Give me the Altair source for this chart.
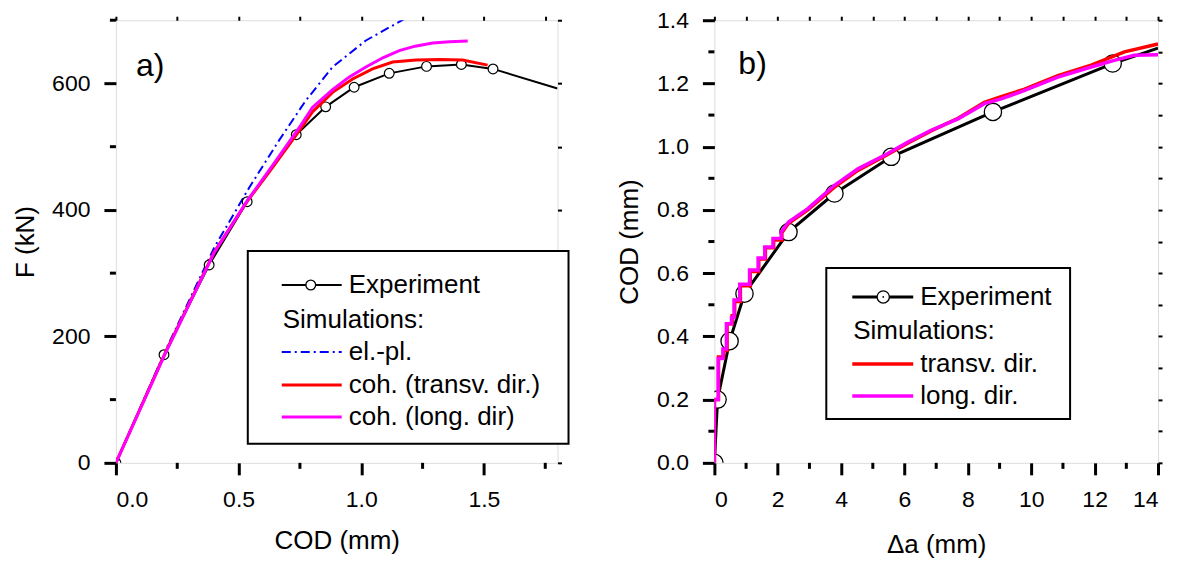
import altair as alt
import pandas as pd

FONT = "Liberation Sans"

# ---------------- panel a) F vs COD ----------------
exp_a_cod = [0.0, 0.196, 0.38, 0.535, 0.735, 0.855, 0.971, 1.114, 1.266, 1.408, 1.537, 1.80]
exp_a_F = [0, 171, 313, 413, 519, 563, 594, 616, 627, 630, 623, 592]
exp_a_marker = [1, 1, 1, 1, 1, 1, 1, 1, 1, 1, 1, 0]

elpl_cod = [0.0, 0.2, 0.4, 0.543, 0.665, 0.774, 0.883, 1.019, 1.18]
elpl_F = [0, 176, 340, 435, 510, 573, 626, 668, 703]

transv_a_cod = [0.0, 0.2, 0.4, 0.536, 0.638, 0.747, 0.801, 0.883, 0.965, 1.046, 1.128, 1.223, 1.318, 1.413, 1.515]
transv_a_F = [0, 173, 333, 414, 467, 525, 555, 586, 607, 623, 634, 637, 638, 637, 629]

long_a_cod = [0.0, 0.2, 0.4, 0.536, 0.638, 0.747, 0.801, 0.883, 0.95, 1.019, 1.09, 1.155, 1.22, 1.291, 1.36, 1.434]
long_a_F = [0, 172, 332, 415, 470, 530, 562, 590, 610, 626, 641, 652, 659, 664, 666, 667]

xa_major = [0.0, 0.5, 1.0, 1.5]
xa_minor = [0.25, 0.75, 1.25, 1.75]
ya_major = [0, 200, 400, 600]
ya_minor = [100, 300, 500, 700]

# ---------------- panel b) COD vs delta a ----------------
exp_b_da = [0.0, 0.10, 0.48, 0.95, 2.34, 3.79, 5.58, 8.79, 12.57, 14.0]
exp_b_cod = [0.0, 0.20, 0.385, 0.535, 0.73, 0.852, 0.968, 1.11, 1.263, 1.312]
exp_b_marker = [1, 1, 1, 1, 1, 1, 1, 1, 1, 0]

long_b_da = [0, 0, 0.12, 0.12, 0.27, 0.27, 0.38, 0.38, 0.54, 0.54, 0.62, 0.62, 0.8, 0.8, 1.11, 1.11,
             1.38, 1.38, 1.59, 1.59, 1.85, 1.85, 2.11, 2.11, 2.34, 2.95, 3.79, 4.53, 5.37, 6.11, 6.84,
             7.69, 8.52, 9.05, 9.79, 10.84, 11.89, 12.62, 13.25, 14.0]
long_b_cod = [0, 0.2, 0.2, 0.33, 0.33, 0.36, 0.36, 0.44, 0.44, 0.46, 0.46, 0.515, 0.515, 0.565, 0.565, 0.61,
              0.61, 0.648, 0.648, 0.683, 0.683, 0.71, 0.71, 0.73, 0.762, 0.804, 0.878, 0.93, 0.973, 1.015, 1.052,
              1.088, 1.136, 1.151, 1.178, 1.22, 1.252, 1.273, 1.289, 1.291]

transv_b_da = [0, 0, 0.13, 0.13, 0.29, 0.29, 0.40, 0.40, 0.56, 0.56, 0.64, 0.64, 0.82, 0.82, 1.13, 1.13,
               1.40, 1.40, 1.61, 1.61, 1.87, 1.87, 2.13, 2.13, 2.34, 2.95, 3.79, 4.53, 5.37, 6.11, 6.84,
               7.69, 8.52, 9.05, 9.79, 10.84, 11.89, 12.94, 14.0]
transv_b_cod = [0, 0.2, 0.2, 0.335, 0.335, 0.355, 0.355, 0.44, 0.44, 0.465, 0.465, 0.51, 0.51, 0.56, 0.56, 0.605,
                0.605, 0.645, 0.645, 0.68, 0.68, 0.705, 0.705, 0.728, 0.758, 0.80, 0.872, 0.925, 0.97, 1.012, 1.05,
                1.09, 1.14, 1.158, 1.182, 1.225, 1.258, 1.30, 1.325]

xb_major = [0, 2, 4, 6, 8, 10, 12, 14]
xb_minor = [1, 3, 5, 7, 9, 11, 13]
yb_major = [0.0, 0.2, 0.4, 0.6, 0.8, 1.0, 1.2, 1.4]
yb_minor = [0.1, 0.3, 0.5, 0.7, 0.9, 1.1, 1.3]

W_A, W_B, H = 442, 444, 443
MINOR = 6

BLACK = "#000000"


def major_axis(orient, values, fmt, title, tick=12, lpad=14, tpad=10):
    return alt.Axis(orient=orient, values=values, format=fmt, title=title, grid=False, domain=False,
                    tickSize=tick, tickWidth=3, tickColor=BLACK, labelFont=FONT, labelFontSize=23,
                    labelColor=BLACK, labelPadding=lpad, titleFont=FONT, titleFontSize=26,
                    titleFontWeight="normal", titleColor=BLACK, titlePadding=tpad)


def frame_axis(orient, values):
    return alt.Axis(orient=orient, values=values, title=None, grid=False, domain=False, labels=False,
                    tickSize=4, tickWidth=2, tickColor=BLACK)


def minor_ticks(xvals, yvals, xscale, yscale, width, height):
    """short outward minor ticks on the bottom and left axes, placed through the scales"""
    bx = alt.Chart(pd.DataFrame({"v": xvals})).mark_rule(color=BLACK, strokeWidth=3).encode(
        x=alt.X("v:Q", scale=xscale, axis=None), y=alt.value(height), y2=alt.value(height + MINOR))
    ly = alt.Chart(pd.DataFrame({"v": yvals})).mark_rule(color=BLACK, strokeWidth=3).encode(
        y=alt.Y("v:Q", scale=yscale, axis=None), x=alt.value(-MINOR), x2=alt.value(0))
    return [bx, ly]


def legend_layers(box, rows):
    """box = (x1, x2, y1, y2) in pixels inside the plot; rows: list of dicts"""
    layers = [alt.Chart(pd.DataFrame({"d": [0]})).mark_rect(fill="white", stroke=BLACK, strokeWidth=2)
              .encode(x=alt.value(box[0]), x2=alt.value(box[1]), y=alt.value(box[2]), y2=alt.value(box[3]))]
    for r in rows:
        base = alt.Chart(pd.DataFrame({"d": [0]}))
        if r.get("line"):
            kw = dict(color=r["color"], strokeWidth=r["width"])
            if r.get("dash"):
                kw["strokeDash"] = r["dash"]
            layers.append(base.mark_rule(**kw).encode(x=alt.value(r["lx"][0]), x2=alt.value(r["lx"][1]),
                                                          y=alt.value(r["y"])))
        if r.get("marker"):
            layers.append(base.mark_point(shape="circle", filled=True, fill="white", stroke=BLACK,
                                          strokeWidth=1.3, size=r["msize"], opacity=1)
                          .encode(x=alt.value(r["mx"]), y=alt.value(r["y"])))
            if r.get("dot"):
                layers.append(base.mark_point(shape="circle", filled=True, color=BLACK, size=3, opacity=1)
                              .encode(x=alt.value(r["mx"]), y=alt.value(r["y"])))
        layers.append(base.mark_text(font=FONT, fontSize=26, align="left", baseline="middle", color=BLACK)
                      .encode(x=alt.value(r["tx"]), y=alt.value(r["y"]), text=alt.value(r["text"])))
    return layers


# ---------- panel a ----------
df_exp_a = pd.DataFrame({"cod": exp_a_cod, "F": exp_a_F, "m": exp_a_marker})
df_elpl = pd.DataFrame({"cod": elpl_cod, "F": elpl_F})
df_tr_a = pd.DataFrame({"cod": transv_a_cod, "F": transv_a_F})
df_lo_a = pd.DataFrame({"cod": long_a_cod, "F": long_a_F})

xs_a = alt.Scale(domain=[0, 1.8], nice=False, zero=False)
ys_a = alt.Scale(domain=[0, 700], nice=False, zero=False)

a_exp_line = alt.Chart(df_exp_a).mark_line(color=BLACK, strokeWidth=2, clip=True).encode(
    x=alt.X("cod:Q", scale=xs_a, axis=major_axis("bottom", xa_major, ".1f", "COD (mm)", tpad=16)),
    y=alt.Y("F:Q", scale=ys_a, axis=major_axis("left", ya_major, "d", "F (kN)", tpad=13)),
    order="cod:Q")
a_elpl = alt.Chart(df_elpl).mark_line(color="#0000FF", strokeWidth=2, strokeDash=[9, 4, 2, 4], clip=True).encode(
    x=alt.X("cod:Q", scale=xs_a, axis=frame_axis("top", xa_major + xa_minor)),
    y=alt.Y("F:Q", scale=ys_a, axis=frame_axis("right", ya_major + ya_minor)),
    order="cod:Q")
a_exp_pts = alt.Chart(df_exp_a).transform_filter("datum.m == 1").mark_point(
    shape="circle", filled=True, fill="white", stroke=BLACK, strokeWidth=1.2, size=95, opacity=1, clip=True
).encode(x=alt.X("cod:Q", scale=xs_a, axis=None), y=alt.Y("F:Q", scale=ys_a, axis=None))
a_tr = alt.Chart(df_tr_a).mark_line(color="#FF0000", strokeWidth=3, clip=True).encode(
    x=alt.X("cod:Q", scale=xs_a, axis=None), y=alt.Y("F:Q", scale=ys_a, axis=None), order="cod:Q")
a_lo = alt.Chart(df_lo_a).mark_line(color="#FF00FF", strokeWidth=3, clip=True).encode(
    x=alt.X("cod:Q", scale=xs_a, axis=None), y=alt.Y("F:Q", scale=ys_a, axis=None), order="cod:Q")

a_label = alt.Chart(pd.DataFrame({"d": [0]})).mark_text(font=FONT, fontSize=32, align="left",
                                                         baseline="middle", color=BLACK).encode(
    x=alt.value(20), y=alt.value(46), text=alt.value("a)"))

a_legend = legend_layers(
    (132, 453, 231, 424),
    [
        dict(text="Experiment", y=265, tx=233, line=True, lx=(166, 226), color=BLACK, width=2,
             marker=True, mx=195, msize=95),
        dict(text="Simulations:", y=300, tx=167),
        dict(text="el.-pl.", y=332, tx=233, line=True, lx=(166, 226), color="#0000FF", width=2, dash=[9, 4, 2, 4]),
        dict(text="coh. (transv. dir.)", y=365, tx=233, line=True, lx=(166, 226), color="#FF0000", width=3),
        dict(text="coh. (long. dir)", y=397, tx=233, line=True, lx=(166, 226), color="#FF00FF", width=3),
    ])

panel_a = alt.layer(a_exp_line, a_elpl, a_exp_pts, a_tr, a_lo,
                    *minor_ticks(xa_minor, ya_minor, xs_a, ys_a, W_A, H), a_label, *a_legend).resolve_axis(
    x="independent", y="independent").resolve_scale(x="shared", y="shared").properties(width=W_A, height=H)

# ---------- panel b ----------
df_exp_b = pd.DataFrame({"da": exp_b_da, "cod": exp_b_cod, "m": exp_b_marker})
df_lo_b = pd.DataFrame({"da": long_b_da, "cod": long_b_cod, "i": list(range(len(long_b_da)))})
df_tr_b = pd.DataFrame({"da": transv_b_da, "cod": transv_b_cod, "i": list(range(len(transv_b_da)))})

xs_b = alt.Scale(domain=[0, 14], nice=False, zero=False)
ys_b = alt.Scale(domain=[0, 1.4], nice=False, zero=False)

b_exp_line = alt.Chart(df_exp_b).mark_line(color=BLACK, strokeWidth=3, clip=True).encode(
    x=alt.X("da:Q", scale=xs_b, axis=major_axis("bottom", xb_major, "d", "\u0394a (mm)", tpad=20)),
    y=alt.Y("cod:Q", scale=ys_b, axis=major_axis("left", yb_major, ".1f", "COD (mm)", tpad=14)),
    order="da:Q")
b_exp_dots = alt.Chart(df_exp_b).transform_filter("datum.m == 1").mark_point(
    shape="circle", filled=True, color=BLACK, size=3, opacity=1, clip=True
).encode(x=alt.X("da:Q", scale=xs_b, axis=frame_axis("top", xb_major + xb_minor)),
         y=alt.Y("cod:Q", scale=ys_b, axis=frame_axis("right", yb_major + yb_minor)))
b_exp_pts = alt.Chart(df_exp_b).transform_filter("datum.m == 1").mark_point(
    shape="circle", filled=True, fill="white", stroke=BLACK, strokeWidth=1.3, size=300, opacity=1, clip=True
).encode(x=alt.X("da:Q", scale=xs_b, axis=None), y=alt.Y("cod:Q", scale=ys_b, axis=None))
b_tr = alt.Chart(df_tr_b).mark_line(color="#FF0000", strokeWidth=3.5, clip=True).encode(
    x=alt.X("da:Q", scale=xs_b, axis=None), y=alt.Y("cod:Q", scale=ys_b, axis=None), order="i:Q")
b_lo = alt.Chart(df_lo_b).mark_line(color="#FF00FF", strokeWidth=3.5, clip=True).encode(
    x=alt.X("da:Q", scale=xs_b, axis=None), y=alt.Y("cod:Q", scale=ys_b, axis=None), order="i:Q")

b_label = alt.Chart(pd.DataFrame({"d": [0]})).mark_text(font=FONT, fontSize=32, align="left",
                                                         baseline="middle", color=BLACK).encode(
    x=alt.value(24), y=alt.value(44), text=alt.value("b)"))

b_legend = legend_layers(
    (112, 356, 248, 399),
    [
        dict(text="Experiment", y=277, tx=206, line=True, lx=(138, 199), color=BLACK, width=3,
             marker=True, mx=169, msize=150, dot=True),
        dict(text="Simulations:", y=311, tx=139),
        dict(text="transv. dir.", y=344, tx=206, line=True, lx=(138, 199), color="#FF0000", width=3.5),
        dict(text="long. dir.", y=376, tx=206, line=True, lx=(138, 199), color="#FF00FF", width=3.5),
    ])

panel_b = alt.layer(b_exp_line, b_exp_dots, b_exp_pts, b_tr, b_lo,
                    *minor_ticks(xb_minor, yb_minor, xs_b, ys_b, W_B, H), b_label, *b_legend).resolve_axis(
    x="independent", y="independent").resolve_scale(x="shared", y="shared").properties(width=W_B, height=H)

chart = alt.hconcat(panel_a, panel_b, spacing=45).properties(
    padding={"left": 4, "top": 0, "right": 5, "bottom": 0}
).configure_view(stroke=BLACK, strokeWidth=3).configure(background="white")

chart.save("out.html", embed_options={"renderer": "svg", "actions": False})
